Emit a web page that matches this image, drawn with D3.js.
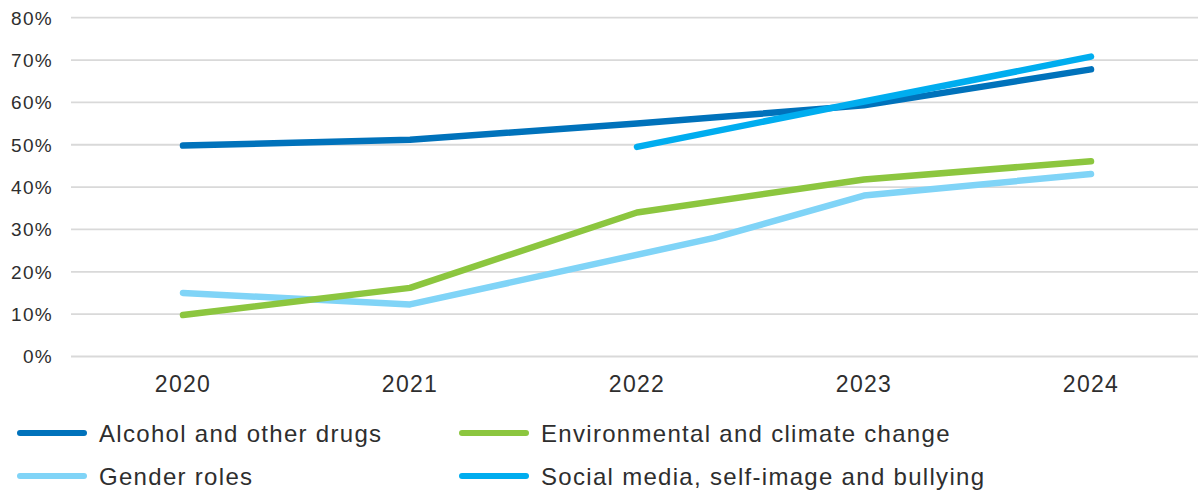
<!DOCTYPE html>
<html>
<head>
<meta charset="utf-8">
<script src="https://cdn.jsdelivr.net/npm/d3@7"></script>
<style>
  body { margin: 0; background: #fff; }
  text { font-family: "Liberation Sans", Arial, sans-serif; fill: #2e2e2e; letter-spacing: 1.3px; }
</style>
</head>
<body>
<script>
// data
const years = [2020, 2021, 2022, 2023, 2024]
const yTicks = [0, 10, 20, 30, 40, 50, 60, 70, 80]

const alcoholYears = [2020, 2021, 2022, 2023, 2024]
const alcohol = [49.8, 51.2, 55.0, 59.3, 67.8]

const environmentalYears = [2020, 2021, 2022, 2023, 2024]
const environmental = [9.8, 16.2, 34.0, 41.8, 46.1]

const genderYears = [2020, 2021, 2022.34, 2023, 2024]
const gender = [15.0, 12.3, 28.0, 38.0, 43.1]

const socialYears = [2022, 2023, 2024]
const social = [49.5, 60.2, 70.8]

const seriesNames = ["Alcohol and other drugs", "Environmental and climate change", "Gender roles", "Social media, self-image and bullying"]
const seriesColors = ["#0072bb", "#8cc63f", "#80d4f7", "#00adef"]

let width = 1198
let height = 492

let svg = d3.select("body")
    .append("svg")
    .attr("width", width)
    .attr("height", height)

let xScale = d3.scaleLinear()
    .domain([2019.5, 2024.5])
    .range([69.5, 1204.5])
let yScale = d3.scaleLinear()
    .domain([0, 80])
    .range([356.5, 17.7])

// gridlines
svg.append("g")
    .selectAll("line")
    .data(yTicks)
    .join("line")
    .attr("x1", 71)
    .attr("x2", width)
    .attr("y1", d => yScale(d))
    .attr("y2", d => yScale(d))
    .style("stroke", "#d9d9d9")
    .style("stroke-width", 1.8)

// y labels
svg.append("g")
    .selectAll("text")
    .data(yTicks)
    .join("text")
    .attr("x", 53)
    .attr("y", d => yScale(d))
    .attr("dy", "0.36em")
    .attr("text-anchor", "end")
    .style("font-size", "19px")
    .text(d => d + "%")

// x labels
svg.append("g")
    .selectAll("text")
    .data(years)
    .join("text")
    .attr("x", d => xScale(d))
    .attr("y", 392)
    .attr("text-anchor", "middle")
    .style("font-size", "23px")
    .text(d => d)

let lineFunction = d3.line()
    .x(d => xScale(d[0]))
    .y(d => yScale(d[1]))

let series = [
    d3.zip(alcoholYears, alcohol),
    d3.zip(environmentalYears, environmental),
    d3.zip(genderYears, gender),
    d3.zip(socialYears, social)
]

// draw order: gender, environmental, alcohol, social on top
let order = [2, 1, 0, 3]
order.forEach(i => {
    svg.append("path")
        .attr("d", lineFunction(series[i]))
        .style("fill", "none")
        .style("stroke", seriesColors[i])
        .style("stroke-width", 6.5)
        .style("stroke-linecap", "round")
        .style("stroke-linejoin", "round")
})

// legend, two columns
let legendX = [20, 462]
let legendY = [433, 476]
seriesNames.forEach((name, i) => {
    let col = i % 2
    let row = Math.floor(i / 2)
    let g = svg.append("g")
        .attr("transform", `translate(${legendX[col]},${legendY[row]})`)
    g.append("line")
        .attr("x1", 0)
        .attr("x2", 64)
        .style("stroke", seriesColors[i])
        .style("stroke-width", 6)
        .style("stroke-linecap", "round")
    g.append("text")
        .attr("x", 79)
        .attr("dy", "0.36em")
        .style("font-size", "24px")
        .text(name)
})
</script>
</body>
</html>
